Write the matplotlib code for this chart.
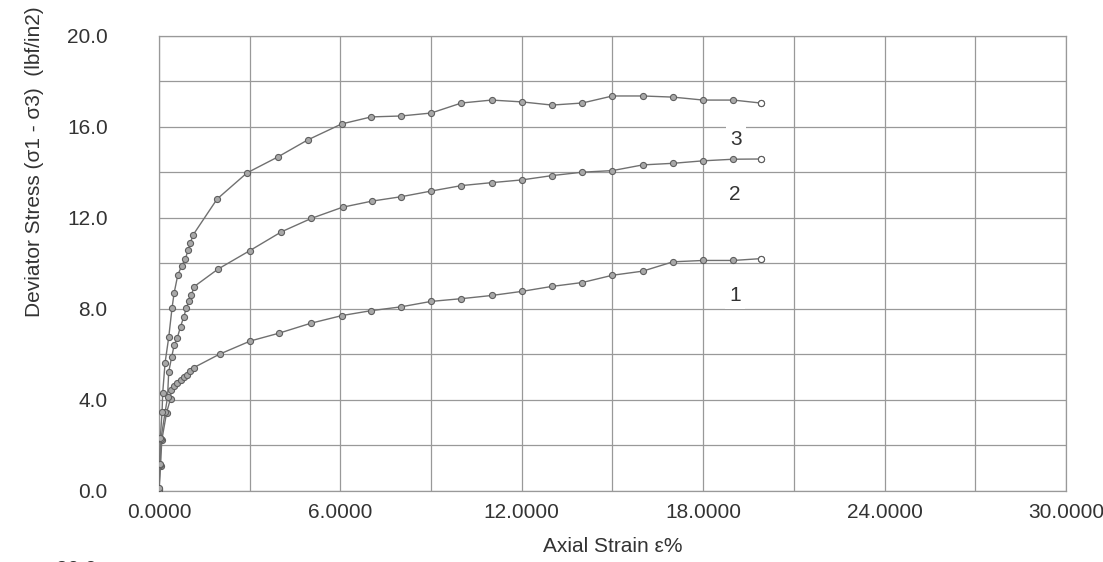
import matplotlib
matplotlib.use("Agg")
import matplotlib.pyplot as plt
from matplotlib.ticker import MultipleLocator, FormatStrFormatter

plt.rcParams['font.family'] = ['Liberation Sans', 'DejaVu Sans']

# Axial strain (%) and deviator stress (lbf/in2)
strain_1 = [0.0, 0.05, 0.09, 0.25, 0.38, 0.40, 0.49, 0.60, 0.71, 0.82, 0.91, 1.04, 1.15,
            2.0, 3.02, 3.96, 5.02, 6.06, 7.0, 8.0, 9.0, 10.0, 11.0, 12.0, 13.0, 14.0,
            15.0, 16.0, 17.0, 18.0, 19.0, 19.9]
stress_1 = [0.07, 1.1, 2.22, 3.43, 4.05, 4.43, 4.58, 4.75, 4.87, 5.0, 5.09, 5.26, 5.41,
            6.0, 6.58, 6.92, 7.36, 7.7, 7.91, 8.08, 8.32, 8.44, 8.58, 8.76, 8.98, 9.15,
            9.47, 9.65, 10.06, 10.12, 10.12, 10.2]

strain_2 = [0.0, 0.03, 0.06, 0.20, 0.28, 0.32, 0.42, 0.50, 0.60, 0.71, 0.82, 0.90, 0.99,
            1.07, 1.16, 1.95, 3.0, 4.05, 5.04, 6.07, 7.05, 8.0, 9.0, 10.0, 11.0, 12.0,
            13.0, 14.0, 15.0, 16.0, 17.0, 18.0, 19.0, 19.9]
stress_2 = [0.05, 1.15, 2.25, 3.45, 4.1, 5.23, 5.89, 6.4, 6.7, 7.21, 7.65, 8.02, 8.34,
            8.6, 8.97, 9.74, 10.55, 11.38, 11.97, 12.46, 12.73, 12.92, 13.17, 13.41,
            13.54, 13.66, 13.85, 14.0, 14.07, 14.32, 14.39, 14.5, 14.57, 14.58]

strain_3 = [0.0, 0.02, 0.04, 0.10, 0.12, 0.20, 0.32, 0.43, 0.50, 0.62, 0.75, 0.87, 0.96,
            1.04, 1.12, 1.92, 2.91, 3.93, 4.92, 6.04, 7.02, 8.0, 9.0, 10.0, 11.0, 12.0,
            13.0, 14.0, 15.0, 16.0, 17.0, 18.0, 19.0, 19.9]
stress_3 = [0.1, 1.17, 2.3, 3.47, 4.29, 5.63, 6.74, 8.04, 8.7, 9.48, 9.89, 10.18, 10.58,
            10.9, 11.23, 12.82, 13.97, 14.67, 15.42, 16.12, 16.43, 16.47, 16.6, 17.04,
            17.17, 17.09, 16.95, 17.04, 17.35, 17.35, 17.3, 17.17, 17.17, 17.04]

curve_labels = ["1", "2", "3"]
label_x = [19.05, 19.05, 19.1]
label_y = [8.6, 13.0, 15.45]

fig = plt.figure(figsize=(11.03, 5.62), dpi=100)
ax = fig.add_axes([0.1442, 0.1269, 0.8222, 0.8096])

line_col = '#707070'
for xs, ys in [(strain_1, stress_1), (strain_2, stress_2), (strain_3, stress_3)]:
    ax.plot(xs, ys, color=line_col, lw=1.0, marker='o', ms=4.4,
            mfc='#a8a8a8', mec='#5e5e5e', mew=0.8, zorder=3)
    # last reading drawn as an open circle
    ax.plot(xs[-1], ys[-1], 'o', ms=4.4, mfc='white', mec='#5e5e5e', mew=0.8, zorder=4)

for lab, lx, ly in zip(curve_labels, label_x, label_y):
    ax.text(lx, ly, lab, fontsize=15, color='#333333', ha='center', va='center',
            bbox=dict(facecolor='white', edgecolor='none', pad=3), zorder=2)

ax.set_xlim(0, 30)
ax.set_ylim(0, 20)
ax.xaxis.set_major_locator(MultipleLocator(6))
ax.xaxis.set_minor_locator(MultipleLocator(3))
ax.yaxis.set_major_locator(MultipleLocator(4))
ax.yaxis.set_minor_locator(MultipleLocator(2))
ax.xaxis.set_major_formatter(FormatStrFormatter('%.4f'))
ax.yaxis.set_major_formatter(FormatStrFormatter('%.1f'))
ax.grid(True, which='both', color='#999999', lw=0.9, zorder=0)
ax.set_axisbelow(True)
for s in ax.spines.values():
    s.set_color('#999999')
    s.set_linewidth(0.9)

ax.tick_params(axis='both', which='both', length=0, labelsize=15, colors='#333333')
ax.tick_params(axis='y', pad=37)
ax.tick_params(axis='x', pad=9)

ax.set_xlabel('Axial Strain ε%', fontsize=15, color='#333333', labelpad=11)
fig.text(0.031, 0.712, 'Deviator Stress (σ1 - σ3)  (lbf/in2)', rotation=90,
         fontsize=15, color='#333333', ha='center', va='center')

# top of the next chart's axis label, cut by the image edge
fig.text(0.069, -0.024, '20.0', fontsize=15, color='#333333', ha='center', va='baseline')

fig.savefig('out.png', dpi=100)
